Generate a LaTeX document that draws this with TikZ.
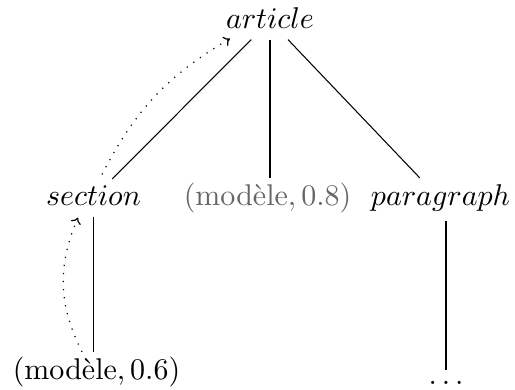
\documentclass[tikz,border=0pt]{standalone}
\usetikzlibrary{arrows.meta}
\begin{document}
\begin{tikzpicture}[x=1pt/3,y=1pt/3,
  lbl/.style={anchor=base,inner sep=3.33pt,text height=5.5pt},
  dim/.style={text=black!60},
  edge/.style={line width=0.35pt},
  link/.style={line width=0.4pt,dash pattern=on 0.4pt off 2.3pt,-{To[length=2pt,width=3.5pt]}}]
\useasboundingbox (0,0) rectangle (515,-390);
\node[lbl] (article) at (270,-29) {$article$};
\node[lbl] (section) at (93.5,-206) {$section$};
\node[lbl,dim] (m8) at (267.5,-205) {$(\mbox{modèle}, 0.8)$};
\node[lbl] (par) at (440.5,-205) {$paragraph$};
\node[lbl] (m6) at (96.5,-379) {$(\mbox{modèle}, 0.6)$};
\node[anchor=base,inner sep=3.33pt] (dots) at (446,-384) {$\ldots$};
\draw[edge] (article) -- (section);
\draw[edge] (article.south) -- (article.south |- m8.north);
\draw[edge] (article) -- (par);
\draw[edge] (section.south) -- (section.south |- m6.north);
\draw[edge] (par.south -| dots.north) -- (dots.north);
\draw[link] ([shift={(8.5,4.5)}]section.north) to[bend left=16] ([shift={(-40,1)}]article.south);
\draw[link] ([shift={(-14.5,0)}]m6.north) to[bend left=25] ([shift={(-15.5,-1)}]section.south);
\end{tikzpicture}
\end{document}
